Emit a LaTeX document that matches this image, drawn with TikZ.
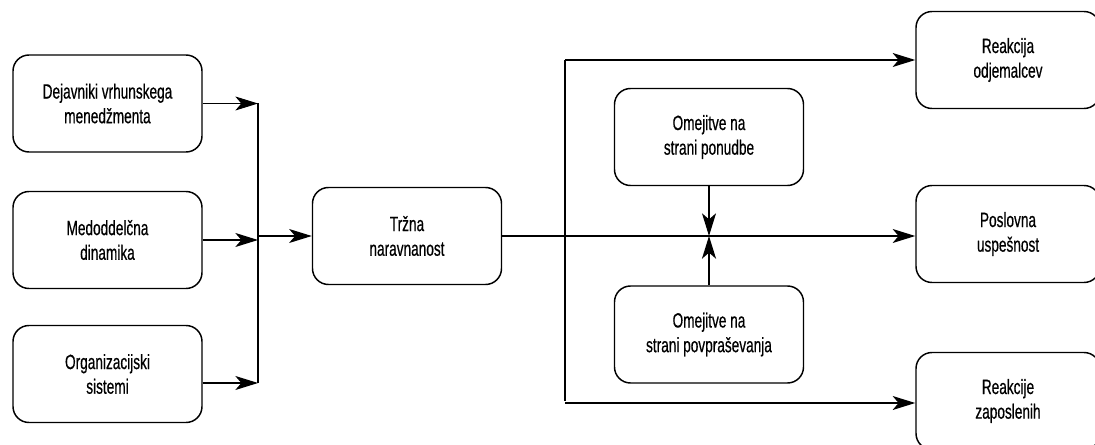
\documentclass[tikz,border=0pt]{standalone}
\usepackage{fontspec}
\setmainfont{Liberation Sans}[FakeStretch=0.66,FakeBold=0.5]
\usetikzlibrary{arrows.meta,calc}
\begin{document}
\begin{tikzpicture}[x=0.75pt,y=-0.75pt,
  box/.style={draw,line width=1.1pt,rounded corners=12pt,align=center,
    inner sep=0pt,font=\fontsize{15.5}{18.5}\selectfont},
  lbox/.style={box,minimum width=141.75pt,minimum height=72.75pt},
  rbox/.style={box,minimum width=138pt,minimum height=72.75pt},
  link/.style={line width=0.8pt},
  arr/.style={link,-{Stealth[length=17pt,width=10.5pt,inset=4.5pt]}}]
\useasboundingbox (0,0) rectangle (1095,445);
% input factors
\node[lbox] (d1) at (107.5,103.5) {Dejavniki vrhunskega\\menedžmenta};
\node[lbox] (d2) at (107.5,240) {Medoddelčna\\dinamika};
\node[lbox] (d3) at (107.5,374) {Organizacijski\\sistemi};
% central node
\node[lbox] (trz) at (407,236) {Tržna\\naravnanost};
% moderators
\node[lbox] (pon) at (709,137) {Omejitve na\\strani ponudbe};
\node[lbox] (pov) at (709,334.5) {Omejitve na\\strani povpraševanja};
% outcomes
\node[rbox] (r1) at (1008,60) {Reakcija\\odjemalcev};
\node[rbox] (r2) at (1008,234) {Poslovna\\uspešnost};
\node[rbox] (r3) at (1008,401) {Reakcije\\zaposlenih};
% junction points
\coordinate (col) at (258,236);
\coordinate (sp) at (565,236);
% collecting bus on the left
\draw[arr] (d1.east) -- (d1.east -| col);
\draw[arr] (d2.east) -- (d2.east -| col);
\draw[arr] ($(d3.east)+(0,9)$) coordinate (d3o) -- (d3o -| col);
\draw[link,line width=1.1pt] (d1.east -| col) -- (d3o -| col);
\draw[arr] (col) -- (col -| trz.west);
% distribution to outcomes
\draw[arr] (trz.east) -- (trz.east -| r2.west);
\draw[link,line width=1.1pt] (sp |- r1.west) -- (sp |- r3.west);
\draw[arr] (sp |- r1.west) -- (r1.west);
\draw[arr] ($(sp |- r3.west)+(0,2)$) coordinate (r3i) -- (r3i -| r3.west);
% moderating effects
\draw[arr] (pon.south) -- (pon.south |- trz.east);
\draw[arr,line width=1.6pt] (pov.north) -- (pov.north |- trz.east);
\end{tikzpicture}
\end{document}
